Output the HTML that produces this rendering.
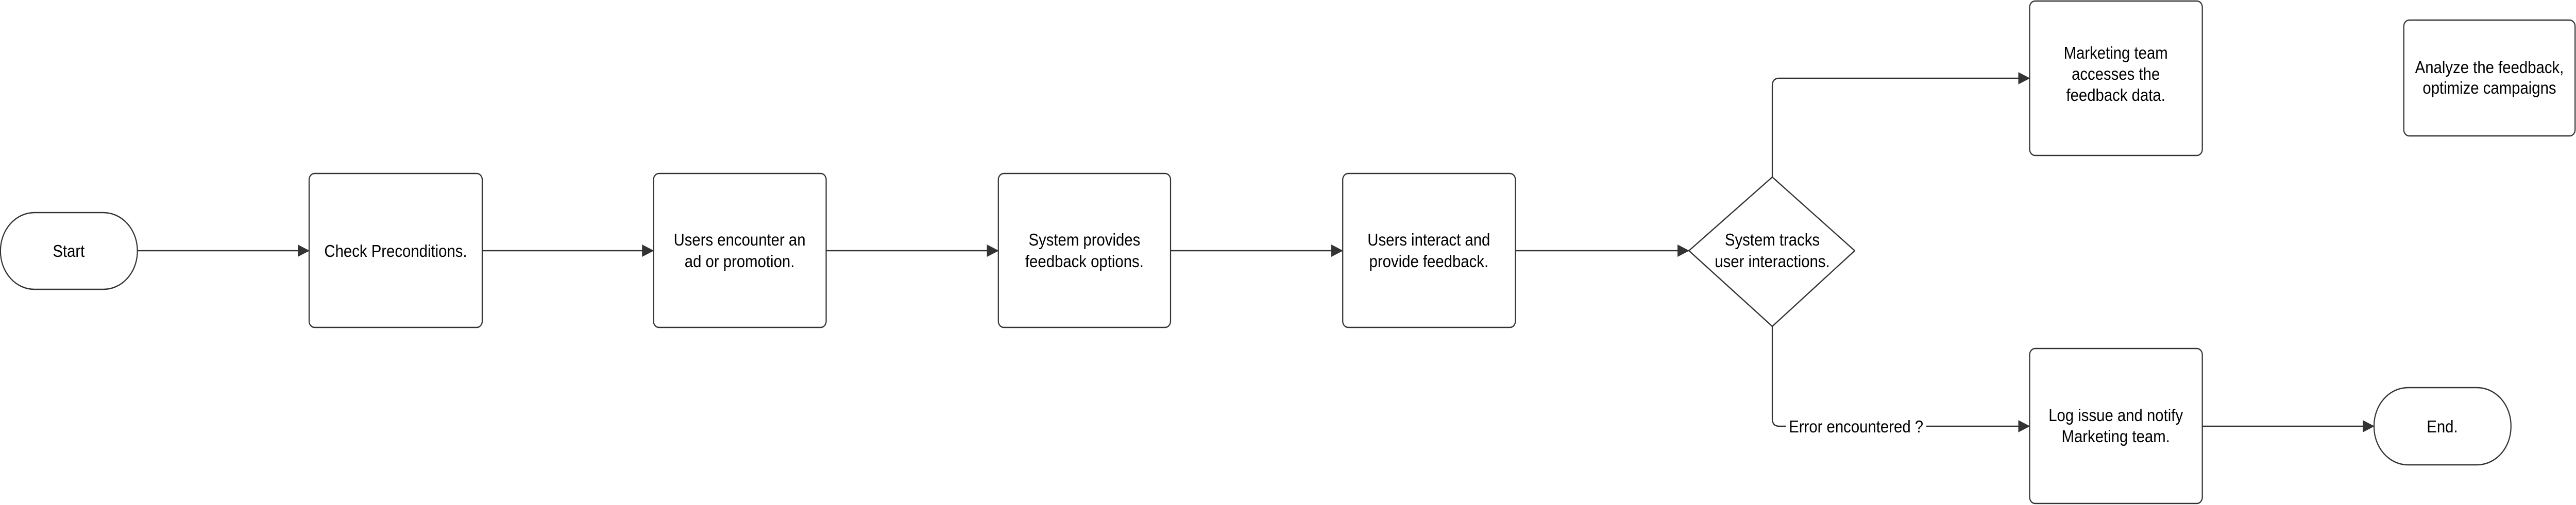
<!DOCTYPE html>
<html><head><meta charset="utf-8"><style>
html,body{margin:0;padding:0;background:#fff;overflow:hidden;width:100%;height:100%;}
svg{display:block;position:absolute;left:0;top:0;width:100vw;height:100vh;}
text{font-family:"Liberation Sans",sans-serif;font-size:33px;fill:#000;}
</style></head><body>
<svg viewBox="0 0 5625 981" preserveAspectRatio="none" xmlns="http://www.w3.org/2000/svg">
<defs>
<marker id="a" markerWidth="26" markerHeight="24" refX="25" refY="12" orient="auto" markerUnits="userSpaceOnUse">
<path d="M0,0 L26,12 L0,24 Z" fill="#333"/>
</marker>
</defs>
<g fill="#fff" stroke="#333" stroke-width="2.5">
<rect x="1" y="413" width="299" height="149" rx="74" ry="74"/>
<rect x="675" y="337" width="378" height="299" rx="12"/>
<rect x="1427" y="337" width="377" height="299" rx="12"/>
<rect x="2180" y="337" width="376" height="299" rx="12"/>
<rect x="2932" y="337" width="377" height="299" rx="12"/>
<path d="M3870,344 L4050,487 L3870,634 L3688,487 Z" stroke-linejoin="round"/>
<rect x="4432" y="2" width="377" height="300" rx="12"/>
<rect x="5249" y="39" width="374" height="225" rx="12"/>
<rect x="4432" y="677" width="377" height="301" rx="12"/>
<rect x="5184" y="753" width="299" height="150" rx="74" ry="74"/>
</g>
<g fill="none" stroke="#333" stroke-width="2.5">
<line x1="300" y1="487" x2="675" y2="487" marker-end="url(#a)"/>
<line x1="1053" y1="487" x2="1427" y2="487" marker-end="url(#a)"/>
<line x1="1804" y1="487" x2="2180" y2="487" marker-end="url(#a)"/>
<line x1="2556" y1="487" x2="2932" y2="487" marker-end="url(#a)"/>
<line x1="3309" y1="487" x2="3688" y2="487" marker-end="url(#a)"/>
<path d="M3870,344 L3870,167 Q3870,152 3885,152 L4432,152" marker-end="url(#a)"/>
<path d="M3870,634 L3870,813 Q3870,828 3885,828 L4432,828" marker-end="url(#a)"/>
<line x1="4809" y1="828" x2="5184" y2="828" marker-end="url(#a)"/>
</g>
<rect x="3900" y="808" width="306" height="40" fill="#fff"/>
<g text-anchor="middle">
<text x="150" y="499">Start</text>
<text x="864" y="499">Check Preconditions.</text>
<text x="1615" y="477">Users encounter an</text>
<text x="1615" y="519">ad or promotion.</text>
<text x="2368" y="477">System provides</text>
<text x="2368" y="519">feedback options.</text>
<text x="3120" y="477">Users interact and</text>
<text x="3120" y="519">provide feedback.</text>
<text x="3870" y="477">System tracks</text>
<text x="3870" y="519">user interactions.</text>
<text x="4620" y="114">Marketing team</text>
<text x="4620" y="155">accesses the</text>
<text x="4620" y="196">feedback data.</text>
<text x="5436" y="142">Analyze the feedback,</text>
<text x="5436" y="182">optimize campaigns</text>
<text x="4620" y="818">Log issue and notify</text>
<text x="4620" y="859">Marketing team.</text>
<text x="5333" y="840">End.</text>
<text x="4053" y="840">Error encountered ?</text>
</g>
</svg>
</body></html>
